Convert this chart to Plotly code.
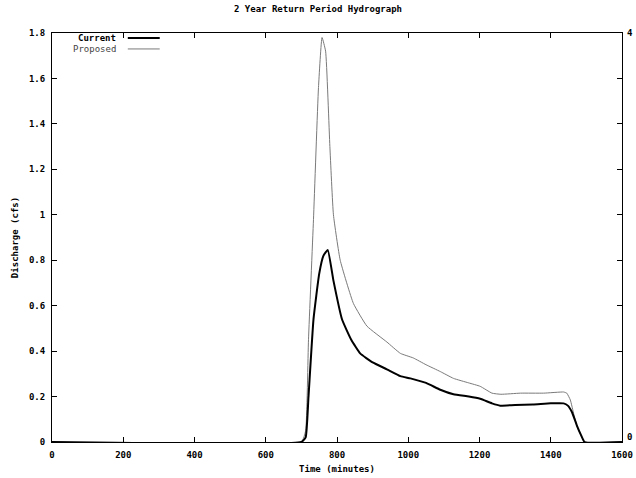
import plotly.graph_objects as go

time_current = [0, 700, 712, 720, 734, 750, 762, 774, 790, 814, 840, 865, 900, 940,
                978, 1006, 1050, 1090, 1127, 1170, 1202, 1235, 1258, 1300, 1350, 1400,
                1436, 1448, 1460, 1474, 1485, 1495, 1600]
current = [0, 0, 0.02, 0.2, 0.54, 0.74, 0.82, 0.845, 0.71, 0.54, 0.45, 0.39, 0.35, 0.32,
           0.29, 0.28, 0.26, 0.23, 0.21, 0.2, 0.19, 0.17, 0.16, 0.163, 0.165, 0.17,
           0.17, 0.16, 0.13, 0.07, 0.03, 0, 0]

time_proposed = [0, 700, 712, 720, 734, 748, 758, 768, 780, 790, 809, 846, 884, 940,
                 978, 1014, 1050, 1090, 1127, 1170, 1202, 1235, 1260, 1315, 1380, 1436,
                 1445, 1455, 1465, 1474, 1485, 1495, 1600]
proposed = [0, 0, 0.05, 0.45, 0.98, 1.56, 1.78, 1.72, 1.3, 1.0, 0.8, 0.61, 0.51, 0.44,
            0.39, 0.37, 0.34, 0.31, 0.28, 0.26, 0.245, 0.215, 0.21, 0.215, 0.215, 0.22,
            0.215, 0.185, 0.12, 0.067, 0.03, 0, 0]

x_ticks = [0, 200, 400, 600, 800, 1000, 1200, 1400, 1600]
y_ticks = [0, 0.2, 0.4, 0.6, 0.8, 1.0, 1.2, 1.4, 1.6, 1.8]
y_labels = ["0", "0.2", "0.4", "0.6", "0.8", "1", "1.2", "1.4", "1.6", "1.8"]

FONT = "DejaVu Sans Mono"
tf = dict(family=FONT, size=9, color="black", weight="bold")

fig = go.Figure()
fig.add_trace(go.Scatter(x=time_proposed, y=proposed, mode="lines", name="Proposed",
                         line=dict(color="#7a7a7a", width=1, shape="spline", smoothing=0.4)))
fig.add_trace(go.Scatter(x=time_current, y=current, mode="lines", name="Current",
                         line=dict(color="black", width=2, shape="spline", smoothing=0.4)))

axis_common = dict(showline=True, linecolor="black", linewidth=1, mirror="ticks",
                   ticks="inside", ticklen=5, tickcolor="black", showgrid=False,
                   zeroline=False, tickfont=tf, automargin=False, ticklabelstandoff=4)

fig.update_layout(
    width=636, height=478,
    margin=dict(l=52, r=14, t=33, b=36),
    paper_bgcolor="white", plot_bgcolor="white",
    showlegend=False,
    title=dict(text="2 Year Return Period Hydrograph", x=0.5, xanchor="center",
               y=1.0, yanchor="top", pad=dict(t=6),
               font=dict(family=FONT, size=9, color="black", weight="bold")),
    xaxis=dict(range=[0, 1600], tickvals=x_ticks, ticktext=[str(v) for v in x_ticks],
               title=dict(text="Time (minutes)", font=tf, standoff=6), **axis_common),
    yaxis=dict(range=[0, 1.8], tickvals=y_ticks, ticktext=y_labels,
               title=dict(text="Discharge (cfs)", font=tf, standoff=8), **axis_common),
)

# gnuplot-style key: label then line sample
for name, yy, col, w in [("Current", 0.988, "black", 2), ("Proposed", 0.961, "#7a7a7a", 1)]:
    fig.add_annotation(x=0.116, y=yy, xref="paper", yref="paper", text=name,
                       showarrow=False, xanchor="right", yanchor="middle",
                       font=dict(family=FONT, size=9, color="black" if name == "Current" else "#444",
                                 weight="bold" if name == "Current" else "normal"))
    fig.add_shape(type="line", xref="paper", yref="paper", x0=0.133, x1=0.189, y0=yy, y1=yy,
                  line=dict(color=col, width=w))

# right-side end labels
fig.add_annotation(x=1.0, y=1.0, xref="paper", yref="paper", text="4", showarrow=False,
                   xanchor="left", yanchor="middle", xshift=3, font=tf)
fig.add_annotation(x=1.0, y=0.0, xref="paper", yref="paper", text="0", showarrow=False,
                   xanchor="left", yanchor="bottom", xshift=3, yshift=-2, font=tf)

fig.write_html("out.html", config={"displayModeBar": False},
               post_script="document.body.style.margin='0';document.body.style.overflow='hidden';")
